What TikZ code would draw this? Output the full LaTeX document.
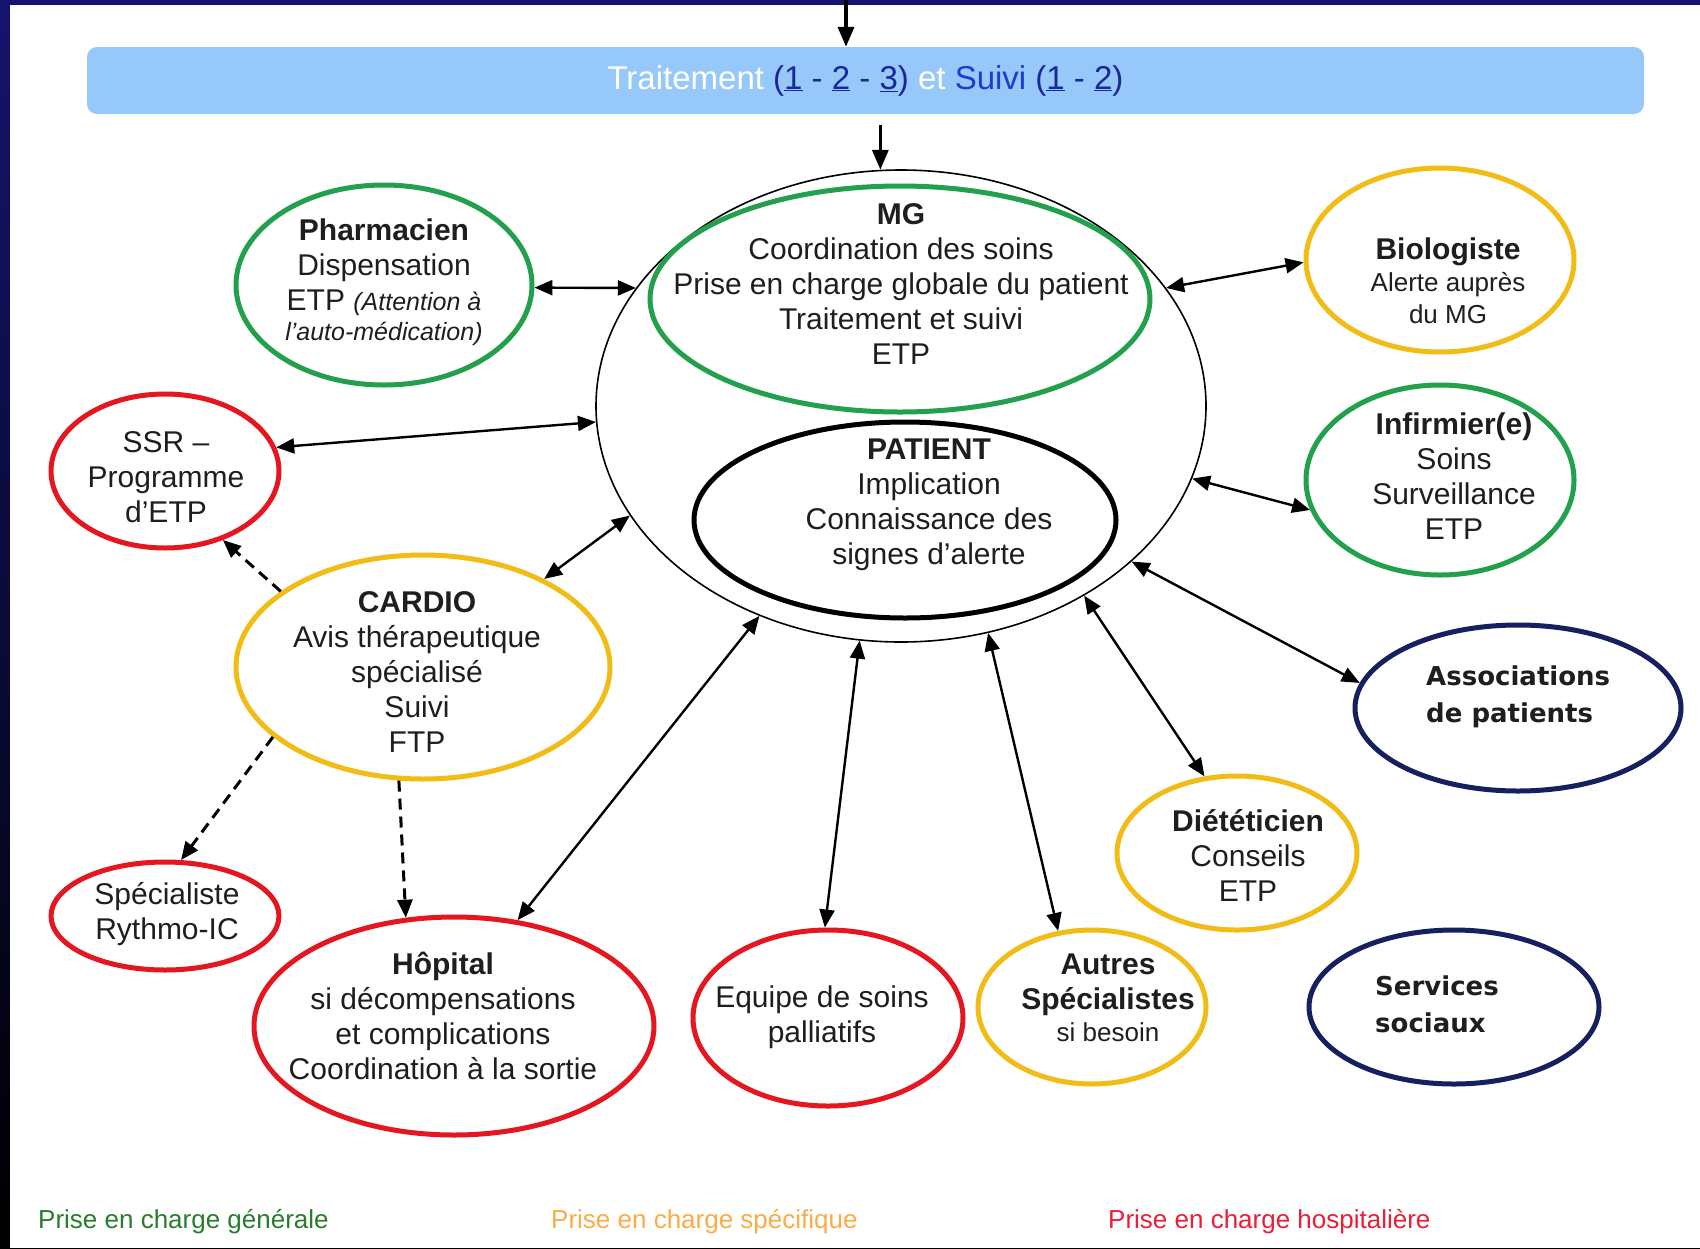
\documentclass[tikz,border=0pt]{standalone}
\usepackage{fontspec}
\setmainfont{Liberation Sans}
\newfontfamily\groupfont{DejaVu Sans}
\usetikzlibrary{shapes.geometric,arrows.meta}

\definecolor{cgreen}{RGB}{35,160,75}
\definecolor{cgold}{RGB}{242,188,22}
\definecolor{cred}{RGB}{228,22,32}
\definecolor{cnavy}{RGB}{22,32,96}
\definecolor{ink}{RGB}{30,30,30}
\definecolor{barblue}{RGB}{150,200,250}
\definecolor{linkblue}{RGB}{25,40,150}
\definecolor{suiviblue}{RGB}{30,60,210}
\definecolor{lgreen}{RGB}{40,125,45}
\definecolor{lorange}{RGB}{250,172,70}
\definecolor{lred}{RGB}{235,30,55}
\definecolor{slidetop}{RGB}{20,20,110}

\newcommand{\regsize}{\fontsize{30}{35}\selectfont}
\newcommand{\smallsize}{\fontsize{26}{30}\selectfont}

\tikzset{
  oval/.style={ellipse, draw, line width=5pt, inner sep=0pt},
  txt/.style={align=center, text=ink, inner sep=0pt, font=\regsize},
  grouptxt/.style={align=left, anchor=west, text=ink, inner sep=0pt,
    font=\groupfont\bfseries\fontsize{26}{37}\selectfont},
  legend/.style={anchor=west, inner sep=0pt, font=\fontsize{26}{30}\selectfont},
  link/.style={line width=2.4pt,
    {Triangle[length=18pt,width=15pt]}-{Triangle[length=18pt,width=15pt]}},
  feed/.style={line width=3.5pt, -{Triangle[length=20pt,width=16pt]}},
  dashto/.style={line width=3pt, dash pattern=on 11pt off 7pt,
    -{Triangle[length=18pt,width=15pt]}}
}

\begin{document}
\begin{tikzpicture}[x=1pt,y=-1pt]
\useasboundingbox (0,0) rectangle (1700,1248);

% slide frame and white page
\shade[top color=slidetop, bottom color=black] (0,0) rectangle (1700,1248);
\fill[white] (10,5) rectangle (1700,1248);

% header bar
\node[rectangle, rounded corners=10pt, fill=barblue, minimum width=1557pt,
      minimum height=67pt, inner sep=0pt, font=\fontsize{33}{36}\selectfont]
  (bar) at (865.5,80.5)
  {\textcolor{white}{Traitement} \textcolor{linkblue}{(\underline{1} - \underline{2} - \underline{3})}
   \textcolor{white}{et} \textcolor{suiviblue}{Suivi} \textcolor{linkblue}{(\underline{1} - \underline{2})}};
\coordinate (entry) at (846,0);

% central circle with MG and patient
\node[ellipse, draw, line width=1.6pt, inner sep=0pt, minimum width=610pt, minimum height=472pt]
  (circ) at (901,406) {};
\node[oval, draw=cgreen, minimum width=500pt, minimum height=226pt] (mg) at (900,299) {};
\node[oval, draw=black, minimum width=422pt, minimum height=196pt] (pat) at (905,520) {};
\node[txt] (mgtxt) at (901,284)
  {\textbf{MG}\\Coordination des soins\\Prise en charge globale du patient\\Traitement et suivi\\ETP};
\node[txt] (pattxt) at (929,505)
  {\textbf{PATIENT}\\Implication\\Connaissance des\\signes d’alerte};

% surrounding actors
\node[oval, draw=cgreen, minimum width=296pt, minimum height=200pt] (pharm) at (384,285) {};
\node[txt] (pharmtxt) at (384,282)
  {\textbf{Pharmacien}\\Dispensation\\ETP {\fontsize{25}{30}\selectfont\itshape (Attention à}\\[-5pt]
   {\fontsize{25}{30}\selectfont\itshape l’auto-médication)}};

\node[oval, draw=cgold, minimum width=268pt, minimum height=184pt] (bio) at (1440,260) {};
\node[txt] (biotxt) at (1448,281)
  {\textbf{Biologiste}\\[-3pt]{\smallsize Alerte auprès}\\[-3pt]{\smallsize du MG}};

\node[oval, draw=cgreen, minimum width=268pt, minimum height=190pt] (inf) at (1440,480) {};
\node[txt] (inftxt) at (1454,476)
  {\textbf{Infirmier(e)}\\Soins\\Surveillance\\ETP};

\node[oval, draw=cred, minimum width=228pt, minimum height=154pt] (ssr) at (165,471) {};
\node[txt] (ssrtxt) at (166,477) {SSR –\\Programme\\d’ETP};

\node[oval, draw=cgold, minimum width=374pt, minimum height=224pt] (cardio) at (423,667) {};
\node[txt] (cardiotxt) at (417,672)
  {\textbf{CARDIO}\\Avis thérapeutique\\spécialisé\\Suivi\\FTP};

\node[oval, draw=cnavy, minimum width=326pt, minimum height=166pt] (assoc) at (1518,708) {};
\node[grouptxt] (assoctxt) at (1426,697) {Associations\\de patients};

\node[oval, draw=cgold, minimum width=240pt, minimum height=154pt] (diet) at (1237,853) {};
\node[txt] (diettxt) at (1248,855) {\textbf{Diététicien}\\Conseils\\ETP};

\node[oval, draw=cred, minimum width=228pt, minimum height=108pt] (rythmo) at (165,916) {};
\node[txt] (rythmotxt) at (167,914) {Spécialiste\\Rythmo-IC};

\node[oval, draw=cred, minimum width=400pt, minimum height=218pt] (hop) at (454,1026) {};
\node[txt] (hoptxt) at (443,1016)
  {\textbf{Hôpital}\\si décompensations\\et complications\\Coordination à la sortie};

\node[oval, draw=cred, minimum width=270pt, minimum height=176pt] (pall) at (828,1018) {};
\node[txt] (palltxt) at (822,1017) {Equipe de soins\\palliatifs};

\node[oval, draw=cgold, minimum width=228pt, minimum height=154pt] (autres) at (1092,1007) {};
\node[txt] (autrestxt) at (1108,998)
  {\textbf{Autres}\\\textbf{Spécialistes}\\[-3pt]{\smallsize si besoin}};

\node[oval, draw=cnavy, minimum width=290pt, minimum height=154pt] (soc) at (1454,1007) {};
\node[grouptxt] (soctxt) at (1375,1004) {Services\\sociaux};

% flows from the header
\draw[feed] (entry) -- (entry |- bar.north);
\draw[feed] ([yshift=-11pt]circ.95.6 |- bar.south) -- (circ.95.6);

% exchanges with the care circle
\draw[link] (pharm.-1) -- (circ.156.3);
\draw[link] (circ.24) -- (bio.181);
\draw[link] (ssr.12.7) -- (circ.183.2);
\draw[link] (cardio.36.9) -- (circ.202);
\draw[link] (circ.-14.7) -- (inf.193.8);
\draw[link] (circ.-34.2) -- (assoc.171.3);
\draw[link] (circ.-46.4) -- (diet.113.6);
\draw[link] (circ.-69.8) -- (autres.114.4);
\draw[link] (circ.-100.6) -- (pall.92.6);
\draw[link] (circ.-124.5) -- (hop.59.7);

% referrals by the cardiologist
\draw[dashto] (cardio.152.7) -- (ssr.-50);
\draw[dashto] (cardio.205.5) -- (rythmo.74);
\draw[dashto] (cardio.258) -- (hop.114.4);

% legend
\node[legend, text=lgreen] (leggen) at (38,1222) {Prise en charge générale};
\node[legend, text=lorange] (legspe) at (551,1222) {Prise en charge spécifique};
\node[legend, text=lred] (leghos) at (1108,1222) {Prise en charge hospitalière};
\end{tikzpicture}
\end{document}
